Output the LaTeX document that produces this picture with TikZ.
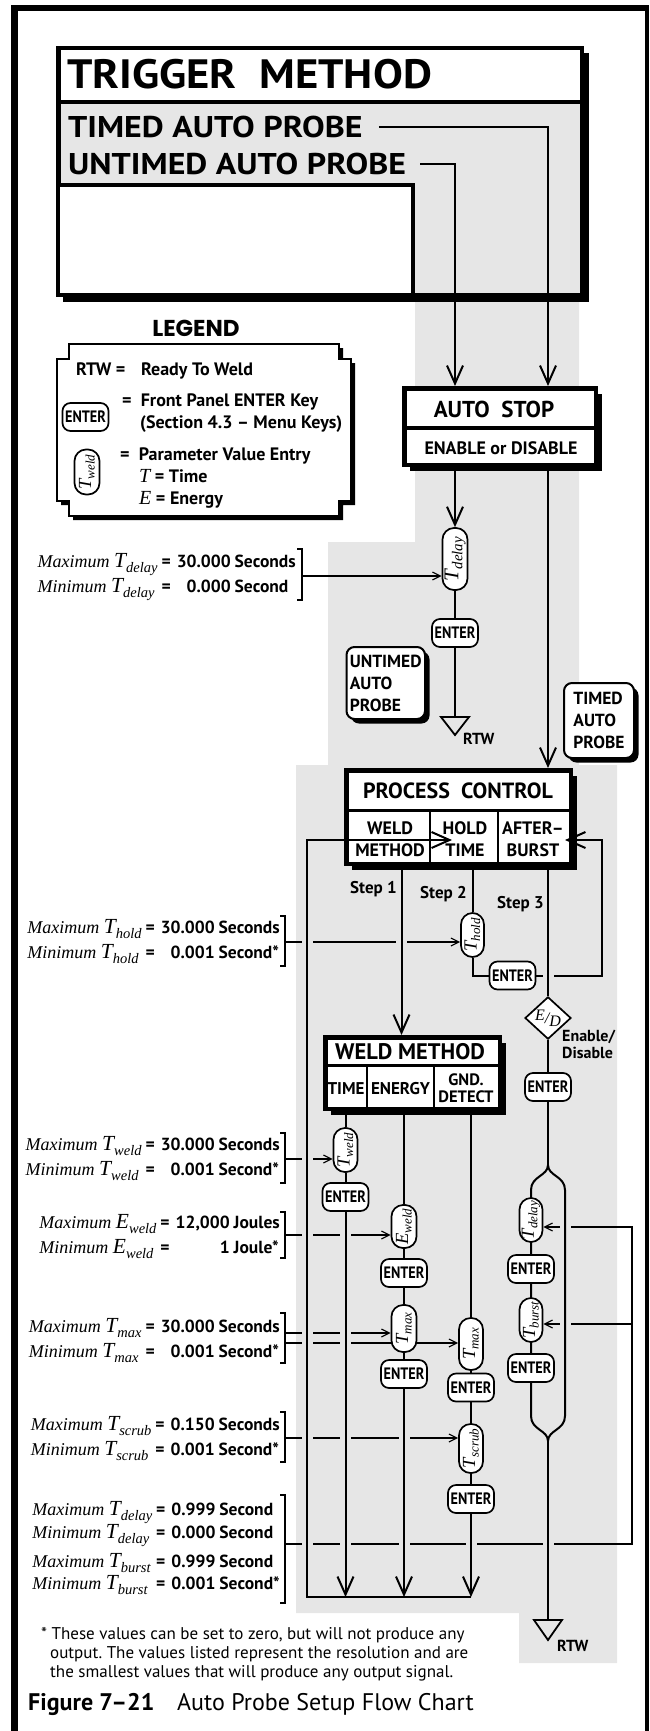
\documentclass[tikz,border=0pt]{standalone}
\usepackage{fontspec}
\setmainfont{PT Sans}
\newfontfamily\cnd[FakeStretch=0.86]{PT Sans}
\newfontfamily\widea[FakeStretch=1.09]{PT Sans}
\newfontfamily\wideb[FakeStretch=1.13]{PT Sans}
\newfontfamily\tms{Liberation Serif}
\newfontfamily\pop{Poppins}
\usetikzlibrary{arrows.meta,shapes.geometric,shadows}
\definecolor{greybg}{RGB}{230,230,230}
\pgfdeclarelayer{bg}
\pgfdeclarelayer{lines}
\pgfdeclarelayer{top}
\pgfsetlayers{bg,lines,main,top}
\frenchspacing
\newcommand{\fsz}[1]{\fontsize{#1}{#1}\selectfont}
\newcommand{\capT}[2]{{\tms\mdseries\itshape\fsz{18.5}#1\raisebox{-3.5pt}{\fsz{13}#2}}}
\newcommand{\capTb}[2]{{\tms\mdseries\itshape\fsz{21}#1\raisebox{-4pt}{\fsz{15}#2}}}
\newcommand{\mlab}[3]{{\tms\mdseries\itshape\fsz{18}#1 {\fsz{21.5}#2}\raisebox{-5pt}{\fsz{14.5}#3}}}
\newcommand{\gapat}[2]{\fill[greybg] (#1-5.5,#2-2) rectangle (#1+5.5,#2+2);}
\newcommand{\mybr}[3]{\draw[brl] (#1-5,#2) -- (#1,#2) -- (#1,#3) -- (#1-5,#3);}
\tikzset{
 flow/.style={line width=2pt},
 brl/.style={line width=1.1pt},
 bigtip/.style={-{Straight Barb[length=18pt,width=16pt]}},
 smalltip/.style={-{Straight Barb[length=8pt,width=8pt]}},
 bigbox/.style={draw, line width=4.5pt, fill=white, inner sep=0pt, drop shadow={shadow xshift=6pt, shadow yshift=-6pt, fill=black, opacity=1}},
 rbox/.style={draw, line width=2pt, fill=white, rounded corners=8pt, inner sep=0pt, drop shadow={shadow xshift=4.5pt, shadow yshift=-4.5pt, fill=black, opacity=1}, font=\bfseries\fontsize{17.5}{22}\selectfont, align=left},
 enterkey/.style={draw, line width=1.7pt, fill=white, rounded corners=8pt, minimum width=46pt, minimum height=28pt, inner sep=0pt, font=\cnd\bfseries\fsz{16.5}},
 capsule/.style={draw, line width=1.7pt, fill=white, rounded corners=11.5pt, minimum height=24pt, minimum width=#1, rotate=90, inner sep=0pt},
 capsule/.default=44pt,
 bt/.style={font=\bfseries\fsz{#1}, inner sep=0pt},
 grp/.style={anchor=base east, inner sep=0pt, font=\bfseries\fontsize{17.5}{25}\selectfont},
}
\begin{document}
\begin{tikzpicture}[x=1pt,y=-1pt]
\useasboundingbox (0,0) rectangle (649,1731);
% outer frame
\fill (11,5) rectangle (18,1731);
\fill (11,5) rectangle (649,11);
\fill (645,5) rectangle (649,1731);

\begin{pgfonlayer}{bg}
\fill[greybg] (415,297) -- (579,297) -- (579,765) -- (617,765) -- (617,1663) -- (519,1663) -- (519,1613) -- (296,1613) -- (296,765) -- (328,765) -- (328,542) -- (415,542) -- cycle;
\fill (63,53) rectangle (589,302);
\filldraw[fill=white, line width=4.5pt] (58.25,48.25) rectangle (581.75,294.75);
\fill[greybg] (60.5,104) rectangle (579.5,292.5);
\filldraw[fill=white, line width=4pt] (58.25,185) rectangle (413,294.75);
\draw[line width=4pt] (58.25,102) -- (581.75,102);
\end{pgfonlayer}

% trigger method texts
\node[font=\widea\bfseries\fsz{41}, inner sep=0pt, anchor=base west] (trig) at (67,89) {TRIGGER\ \ METHOD};
\node[font=\wideb\bfseries\fsz{30}, inner sep=0pt, anchor=base west] (timed) at (68,138) {TIMED AUTO PROBE};
\node[font=\wideb\bfseries\fsz{30}, inner sep=0pt, anchor=base west] (untimed) at (68,175) {UNTIMED AUTO PROBE};

% legend
\node[font=\pop\bfseries\fsz{23}, anchor=base, inner sep=0pt] (legend) at (196,336) {LEGEND};
\fill (73,348) -- (343,348) -- (343,363) -- (355,363) -- (355,505) -- (343,505) -- (343,520) -- (73,520) -- (73,505) -- (61,505) -- (61,363) -- (73,363) -- cycle;
\filldraw[fill=white, line width=2pt] (69,344) -- (339,344) -- (339,359) -- (351,359) -- (351,501) -- (339,501) -- (339,516) -- (69,516) -- (69,501) -- (57,501) -- (57,359) -- (69,359) -- cycle;
\node[bt=18, anchor=base west] (lrtw) at (76,375) {RTW =};
\node[bt=18, anchor=base west] (lrtwd) at (141,375) {Ready To Weld};
\node[enterkey] (lenter) at (85.5,417) {ENTER};
\node[bt=18, anchor=base west] (lent1) at (122,406) {=\ \ Front Panel ENTER Key};
\node[bt=18, anchor=base west] (lent2) at (140,428) {(Section 4.3 -- Menu Keys)};
\node[capsule=45pt, minimum height=25pt] (lcap) at (87,472) {\capT{T}{weld}};
\node[bt=18, anchor=base west] (lcap1) at (120,460) {=\ \ Parameter Value Entry};
\node[bt=18, anchor=base west] (lcap2) at (139,482) {{\tms\mdseries\itshape\fsz{20}T} = Time};
\node[bt=18, anchor=base west] (lcap3) at (139,504) {{\tms\mdseries\itshape\fsz{20}E} = Energy};

% AUTO STOP
\node[bigbox, minimum width=191.5pt, minimum height=76.5pt] (autostop) at (500,426.5) {};
\draw[line width=3.5pt] (404.25,428) -- (595.75,428);
\node[bt=23, anchor=base] (asT) at (494,417) {AUTO\ \ STOP};
\node[bt=18, anchor=base] (asE) at (501,454) {ENABLE or DISABLE};

% untimed branch
\node[capsule=62pt, minimum height=25pt] (tdel1) at (455,559) {\capTb{T}{delay}};
\node[enterkey] (ent1) at (455,633) {ENTER};
\coordinate (rtw1) at (455,717);
\draw[line width=1.8pt] (441,717) -- (469,717) -- (455,735) -- cycle;
\node[bt=16, anchor=base west] (rtw1t) at (463,744) {RTW};
\node[rbox, minimum width=78.5pt, minimum height=72pt] (ubox) at (385.75,683) {UNTIMED\\AUTO\\PROBE};
\node[rbox, minimum width=70pt, minimum height=75pt] (tbox) at (599,720.5) {TIMED\\AUTO\\PROBE};

% PROCESS CONTROL
\node[bigbox, minimum width=224.5pt, minimum height=93.5pt] (pc) at (458.5,817) {};
\draw[line width=3pt] (346.25,810) -- (570.75,810);
\draw[line width=2.3pt] (430,810) -- (430,863.75);
\draw[line width=2.3pt] (498,810) -- (498,863.75);
\node[bt=22, anchor=base] (pcT) at (458,798) {PROCESS\ \ CONTROL};
\node[bt=18, anchor=base] (pc1a) at (390,834) {WELD};
\node[bt=18, anchor=base] (pc1b) at (390,856) {METHOD};
\node[bt=18, anchor=base] (pc2a) at (465,834) {HOLD};
\node[bt=18, anchor=base] (pc2b) at (465,856) {TIME};
\node[bt=18, anchor=base] (pc3a) at (533,834) {AFTER--};
\node[bt=18, anchor=base] (pc3b) at (533,856) {BURST};
\node[bt=17, anchor=base west] (s1) at (350,893) {Step 1};
\node[bt=17, anchor=base west] (s2) at (420,898) {Step 2};
\node[bt=17, anchor=base west] (s3) at (497,908) {Step 3};

% hold time
\node[capsule=44pt, minimum height=23pt] (thold) at (472.5,935) {\capT{T}{hold}};
\node[enterkey] (enth) at (512.5,975.5) {ENTER};

% afterburst
\node[draw, diamond, line width=1.7pt, fill=white, minimum width=46pt, minimum height=38pt, inner sep=0pt] (ed) at (548,1018) {\tms\itshape\fsz{16}\raisebox{3pt}{E}/\raisebox{-3pt}{D}};
\node[anchor=west, align=left, inner sep=0pt, font=\bfseries\fontsize{16}{17}\selectfont] (edl) at (562,1044) {Enable/\\Disable};
\node[enterkey] (ented) at (548,1087) {ENTER};
\node[capsule=44pt, minimum height=23pt] (tdel2) at (531,1220) {\capT{T}{delay}};
\node[enterkey] (entf1) at (531,1269) {ENTER};
\node[capsule=44pt, minimum height=23pt] (tburst) at (531,1320) {\capT{T}{burst}};
\node[enterkey] (entf2) at (531,1368) {ENTER};
\coordinate (rtw2) at (548,1620);
\draw[line width=1.8pt] (534,1620) -- (562,1620) -- (548,1640) -- cycle;
\node[bt=16, anchor=base west] (rtw2t) at (557,1651) {RTW};

% WELD METHOD
\node[bigbox, minimum width=174.5pt, minimum height=71.5pt] (wm) at (412.5,1073) {};
\draw[line width=3pt] (325.25,1065) -- (499.75,1065);
\draw[line width=2.3pt] (367,1065) -- (367,1108.75);
\draw[line width=2.3pt] (434,1065) -- (434,1108.75);
\node[bt=22.5, anchor=base] (wmT) at (410,1059) {WELD METHOD};
\node[bt=17, anchor=base] (wm1) at (346,1094) {TIME};
\node[bt=17, anchor=base] (wm2) at (400.5,1094) {ENERGY};
\node[bt=16.5, anchor=base] (wm3a) at (466,1085) {GND.};
\node[bt=16.5, anchor=base] (wm3b) at (466,1102) {DETECT};

\node[capsule=44pt, minimum height=24pt] (tweld) at (345.5,1150) {\capT{T}{weld}};
\node[enterkey] (entw) at (345.5,1197) {ENTER};
\node[capsule=43pt, minimum height=25pt] (eweld) at (404,1226.5) {\capT{E}{weld}};
\node[enterkey] (ente1) at (404,1273) {ENTER};
\node[capsule=47pt, minimum height=25pt] (tmax1) at (404,1328.5) {\capT{T}{max}};
\node[enterkey] (ente2) at (404,1374) {ENTER};
\node[capsule=52pt, minimum height=24pt] (tmax2) at (471,1344) {\capT{T}{max}};
\node[enterkey] (entg1) at (471,1387.5) {ENTER};
\node[capsule=49pt, minimum height=24pt] (tscrub) at (471,1448.5) {\capT{T}{scrub}};
\node[enterkey] (entg2) at (471,1499) {ENTER};

% limit texts
\node[grp] (g1) at (296,567) {\begin{tabular}[t]{@{}l@{\hspace{4pt}}l@{\hspace{6pt}}r@{\hspace{4pt}}l@{}}
\mlab{Maximum}{T}{delay} & = & 30.000 & Seconds\\
\mlab{Minimum}{T}{delay} & = & 0.000 & Second\end{tabular}};
\node[grp] (g2) at (280,933) {\begin{tabular}[t]{@{}l@{\hspace{4pt}}l@{\hspace{6pt}}r@{\hspace{4pt}}l@{}}
\mlab{Maximum}{T}{hold} & = & 30.000 & Seconds\\
\mlab{Minimum}{T}{hold} & = & 0.001 & Second*\end{tabular}};
\node[grp] (g3) at (280,1150) {\begin{tabular}[t]{@{}l@{\hspace{4pt}}l@{\hspace{6pt}}r@{\hspace{4pt}}l@{}}
\mlab{Maximum}{T}{weld} & = & 30.000 & Seconds\\
\mlab{Minimum}{T}{weld} & = & 0.001 & Second*\end{tabular}};
\node[grp] (g4) at (280,1228) {\begin{tabular}[t]{@{}l@{\hspace{4pt}}l@{\hspace{6pt}}r@{\hspace{4pt}}l@{}}
\mlab{Maximum}{E}{weld} & = & 12,000 & Joules\\
\mlab{Minimum}{E}{weld} & = & 1 & Joule*\end{tabular}};
\node[grp] (g5) at (280,1332) {\begin{tabular}[t]{@{}l@{\hspace{4pt}}l@{\hspace{6pt}}r@{\hspace{4pt}}l@{}}
\mlab{Maximum}{T}{max} & = & 30.000 & Seconds\\
\mlab{Minimum}{T}{max} & = & 0.001 & Second*\end{tabular}};
\node[grp] (g6) at (280,1430) {\begin{tabular}[t]{@{}l@{\hspace{4pt}}l@{\hspace{6pt}}r@{\hspace{4pt}}l@{}}
\mlab{Maximum}{T}{scrub} & = & 0.150 & Seconds\\
\mlab{Minimum}{T}{scrub} & = & 0.001 & Second*\end{tabular}};
\node[grp, font=\bfseries\fontsize{17.5}{22}\selectfont] (g7) at (280,1515) {\begin{tabular}[t]{@{}l@{\hspace{4pt}}l@{\hspace{6pt}}r@{\hspace{4pt}}l@{}}
\mlab{Maximum}{T}{delay} & = & 0.999 & Second\\
\mlab{Minimum}{T}{delay} & = & 0.000 & Second\\[7pt]
\mlab{Maximum}{T}{burst} & = & 0.999 & Second\\
\mlab{Minimum}{T}{burst} & = & 0.001 & Second*\end{tabular}};

% footnote and caption
\node[font=\fsz{17}, anchor=base west, inner sep=0pt] (fn1) at (41,1639) {* These values can be set to zero, but will not produce any};
\node[font=\fsz{17}, anchor=base west, inner sep=0pt] (fn2) at (50,1658) {output. The values listed represent the resolution and are};
\node[font=\fsz{17}, anchor=base west, inner sep=0pt] (fn3) at (50,1677) {the smallest values that will produce any output signal.};
\node[font=\bfseries\fsz{24}, anchor=base west, inner sep=0pt] (figno) at (28,1710) {Figure 7--21};
\node[font=\fsz{24}, anchor=base west, inner sep=0pt] (figcap) at (177,1710) {Auto Probe Setup Flow Chart};

% coordinates
\coordinate (colU) at (455,0);
\coordinate (colT) at (548,0);
\coordinate (col1) at (401.5,0);
\coordinate (col2) at (472.5,0);
\coordinate (cTime) at (345.5,1597);
\coordinate (cEn) at (404,1597);
\coordinate (cGnd) at (471,1597);
\coordinate (cL) at (307,1597);
\coordinate (ll1) at (307,840);
\coordinate (tipL) at (452,840);
\coordinate (rl1) at (602,975.5);
\coordinate (rl2) at (602,840);
\coordinate (tipR) at (565,840);
\coordinate (fs) at (548,1165);
\coordinate (fm) at (548,1441);
\coordinate (b1) at (302,576);
\coordinate (b2) at (285,942);
\coordinate (b3) at (285,1159);
\coordinate (b4) at (285,1235);
\coordinate (b5a) at (285,1333);
\coordinate (b5b) at (285,1343);
\coordinate (b6) at (285,1438);
\coordinate (b7) at (285,1544);
\coordinate (rc1) at (632,1544);
\coordinate (rc2) at (632,1227);
\coordinate (rc3) at (632,1324);

\begin{pgfonlayer}{lines}
% brackets and thin feed lines
\mybr{302}{549}{600}
\mybr{285}{916}{966}
\mybr{285}{1133}{1183}
\mybr{285}{1212}{1258}
\mybr{285}{1313}{1363}
\mybr{285}{1412}{1462}
\mybr{285}{1495}{1603}
\draw[brl, smalltip] (b1) -- (b1 -| tdel1.north);
\draw[brl, smalltip] (b2) -- (b2 -| thold.north);
\draw[brl, smalltip] (b3) -- (b3 -| tweld.north);
\draw[brl, smalltip] (b4) -- (b4 -| eweld.north);
\draw[brl, smalltip] (b5a) -- (b5a -| tmax1.north);
\draw[brl, smalltip] (b5b) -- (b5b -| tmax2.north);
\draw[brl, smalltip] (b6) -- (b6 -| tscrub.north);
\draw[brl, smalltip] (b7) -- (rc1) -- (rc2) -- (rc2 -| tdel2.south);
\draw[brl, smalltip] (rc3) -- (rc3 -| tburst.south);
% lower part of the right loop
\draw[flow] (enth) -- (rl1) -- (rl2);
% gaps where lines cross
\gapat{307}{942} \gapat{401.5}{942}
\gapat{307}{1159}
\gapat{307}{1235} \gapat{345.5}{1235}
\gapat{307}{1333} \gapat{345.5}{1333}
\gapat{307}{1343} \gapat{345.5}{1343}
\gapat{307}{1438} \gapat{345.5}{1438} \gapat{404}{1438}
\gapat{307}{1544} \gapat{345.5}{1544} \gapat{404}{1544} \gapat{471}{1544} \gapat{548}{1544}
\gapat{565}{1227} \gapat{565}{1324}
\gapat{548}{975.5}
% main flow
\draw[flow, bigtip] ([xshift=16pt]timed.east) -| (autostop.north -| colT);
\draw[flow, bigtip] ([xshift=14pt]untimed.east) -| (autostop.north -| colU);
\draw[flow, bigtip] (autostop.south -| colU) -- (tdel1);
\draw[flow] (tdel1) -- (ent1);
\draw[flow] (ent1) -- (rtw1);
\draw[flow, bigtip] (autostop.south -| colT) -- (pc.north -| colT);
\draw[flow, bigtip] (pc.south -| col1) -- (wm.north -| col1);
\draw[flow] (pc.south -| col2) -- (thold);
\draw[flow] (thold) |- (enth);
\draw[flow] (pc.south -| colT) -- (ed);
\draw[flow] (ed) -- (ented);
\draw[flow] (ented) -- (fs);
\draw[flow] (fs) .. controls (548,1176) and (565,1176) .. (565,1190) -- (565,1416) .. controls (565,1430) and (548,1430) .. (fm);
\draw[flow] (fs) .. controls (548,1176) and (531,1176) .. (531,1190) -- (531,1416) .. controls (531,1430) and (548,1430) .. (fm);
\draw[flow] (fm) -- (rtw2);
\draw[flow] (wm.south -| cTime) -- (tweld) -- (entw);
\draw[flow, bigtip] (entw) -- (cTime);
\draw[flow] (wm.south -| cEn) -- (eweld) -- (ente1) -- (tmax1) -- (ente2);
\draw[flow, bigtip] (ente2) -- (cEn);
\draw[flow] (wm.south -| cGnd) -- (tmax2) -- (entg1) -- (tscrub) -- (entg2);
\draw[flow, bigtip] (entg2) -- (cGnd);
\draw[flow] (cGnd) -- (cL) -- (ll1);
\end{pgfonlayer}

\begin{pgfonlayer}{top}
\draw[flow, bigtip] ([yshift=-10pt]ll1) -- (ll1) -- (tipL);
\draw[flow, bigtip] ([yshift=-10pt]rl2) -- (rl2) -- (tipR);
\end{pgfonlayer}
\end{tikzpicture}
\end{document}
